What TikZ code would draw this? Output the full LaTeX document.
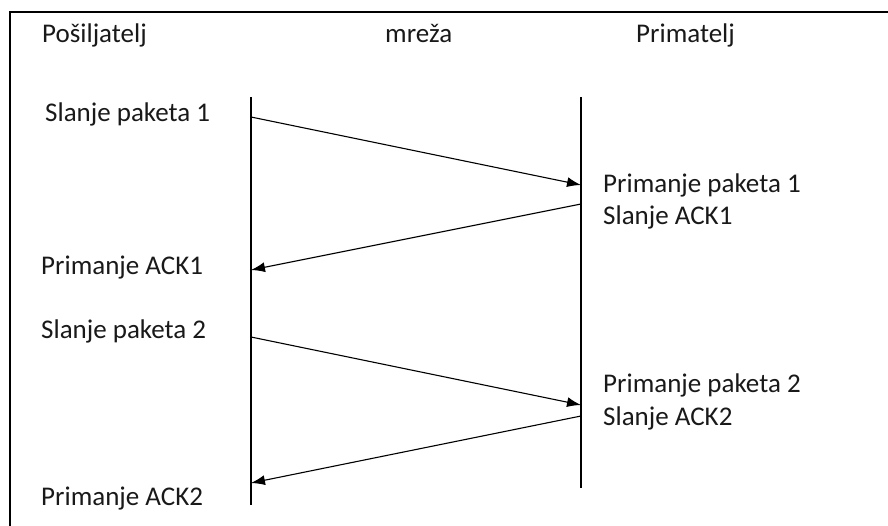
\documentclass[tikz,border=0pt]{standalone}
\usepackage{fontspec}
\setmainfont{Carlito}
\usetikzlibrary{arrows.meta}
\begin{document}
\begin{tikzpicture}[x=1pt,y=-1pt,
  lbl/.style={anchor=base west,inner sep=0pt,font=\fontsize{27}{32}\selectfont,text=black!90},
  life/.style={line width=1.3pt},
  msg/.style={line width=1.1pt,-{Latex[length=14pt,width=10pt]}},
  frame/.style={line width=2pt}]
\useasboundingbox (0,0) rectangle (888,526);
\coordinate (fl) at (10,526);
\coordinate (ft) at (10,12.5);
\coordinate (fr) at (888,12.5);
\draw[frame] (fl) -- (ft) -- (fr);
% headers
\node[lbl] (hs) at (42,43) {Pošiljatelj};
\node[lbl] (hn) at (385,43) {mreža};
\node[lbl] (hr) at (636,43) {Primatelj};
% lifelines
\coordinate (st) at (251,97);
\coordinate (sb) at (251,505);
\coordinate (rt) at (581,97);
\coordinate (rb) at (581,488);
\draw[life] (st) -- (sb);
\draw[life] (rt) -- (rb);
% message points
\coordinate (s1) at (251,117);
\coordinate (r1) at (581,185);
\coordinate (r2) at (581,204);
\coordinate (s2) at (251,270);
\coordinate (s3) at (251,337);
\coordinate (r3) at (581,405);
\coordinate (r4) at (581,416);
\coordinate (s4) at (251,483);
\draw[msg] (s1) -- (r1);
\draw[msg] (r2) -- (s2);
\draw[msg] (s3) -- (r3);
\draw[msg] (r4) -- (s4);
% labels
\node[lbl] (l1) at (45,122) {Slanje paketa 1};
\node[lbl] (l2) at (603,193) {Primanje paketa 1};
\node[lbl] (l3) at (603,225) {Slanje ACK1};
\node[lbl] (l4) at (41,275) {Primanje ACK1};
\node[lbl] (l5) at (41,338) {Slanje paketa 2};
\node[lbl] (l6) at (603,392) {Primanje paketa 2};
\node[lbl] (l7) at (603,425) {Slanje ACK2};
\node[lbl] (l8) at (41,505) {Primanje ACK2};
\end{tikzpicture}
\end{document}
